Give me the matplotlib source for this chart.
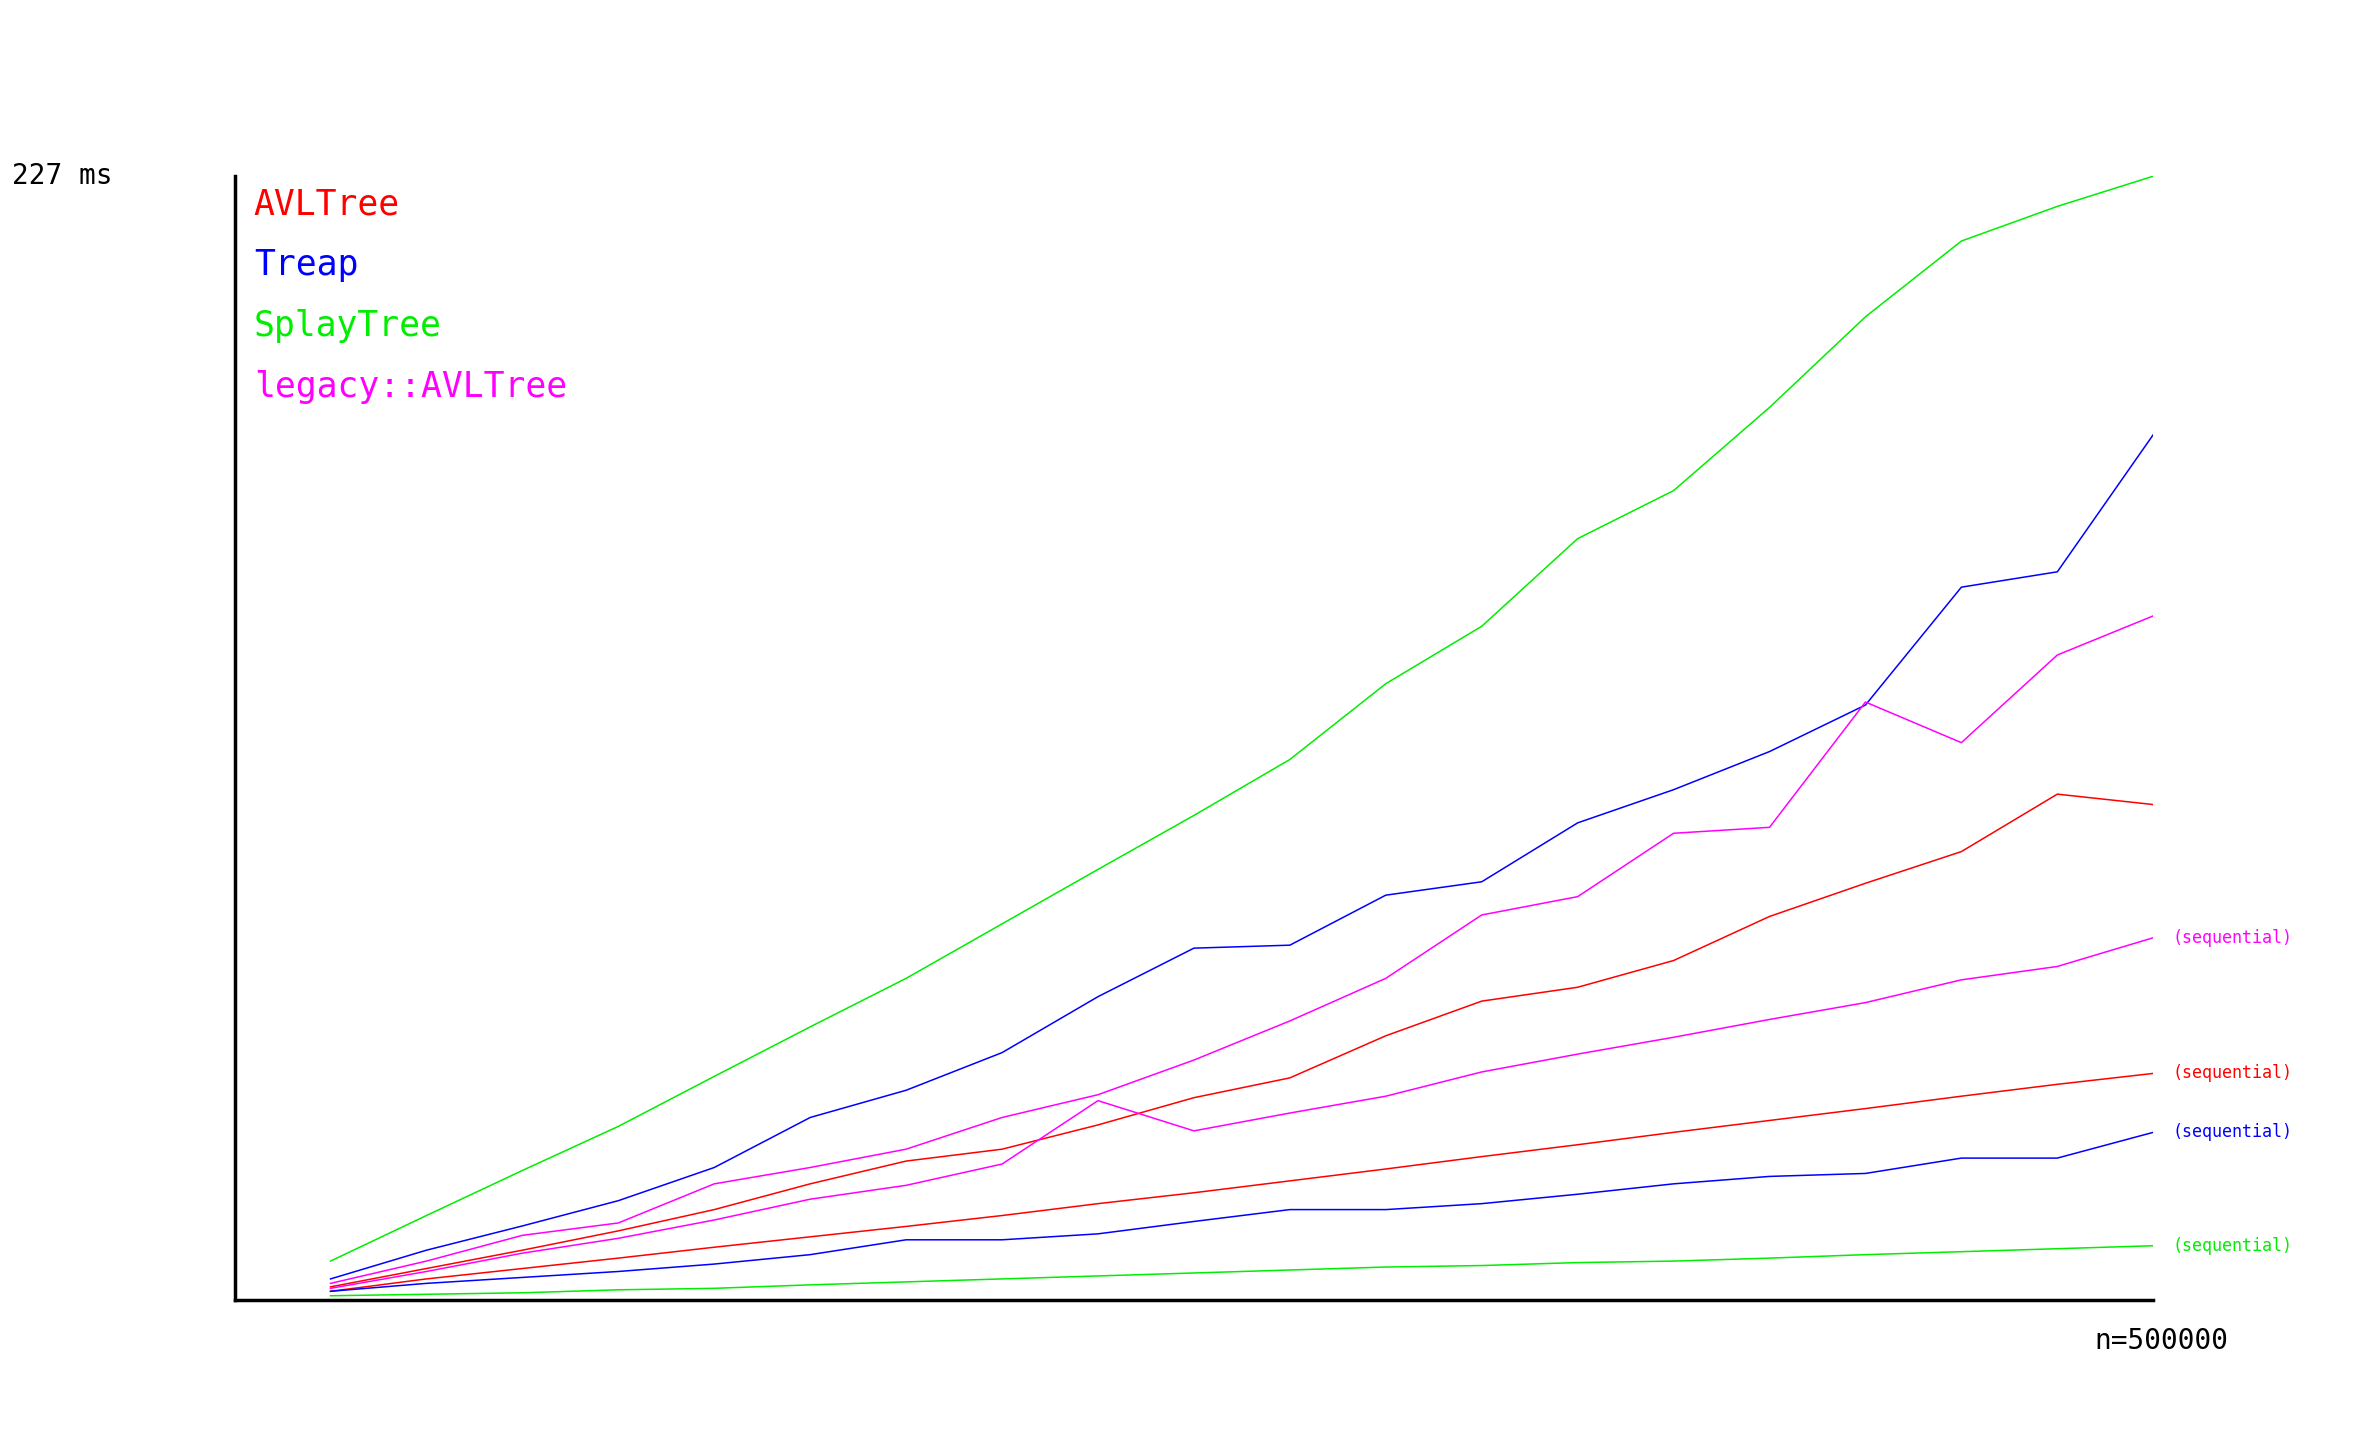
import numpy as np
import matplotlib.pyplot as plt

n = np.arange(25000, 500001, 25000)

avl = [2.7, 6.4, 10.1, 14.0, 18.3, 23.5, 28.1, 30.5, 35.4, 40.9, 44.9, 53.4, 60.4, 63.2, 68.6, 77.5, 84.2, 90.6, 102.2, 100.1]
treap = [4.3, 10.1, 15.0, 20.1, 26.8, 36.9, 42.4, 50.0, 61.3, 71.1, 71.7, 81.8, 84.5, 96.4, 103.1, 110.8, 120.2, 144.0, 147.1, 174.8]
splay = [7.9, 17.1, 26.2, 35.1, 45.2, 55.2, 65.0, 76.0, 87.0, 97.9, 109.2, 124.5, 136.1, 153.8, 163.5, 180.3, 198.6, 213.9, 220.9, 227.0]
legacy = [3.4, 7.9, 13.1, 15.6, 23.5, 26.8, 30.5, 36.9, 41.5, 48.5, 56.4, 65.0, 77.8, 81.5, 94.3, 95.5, 120.8, 112.6, 130.3, 138.2]

avl_seq = [1.8, 4.3, 6.4, 8.5, 10.7, 12.8, 14.9, 17.1, 19.5, 21.7, 24.1, 26.5, 29.0, 31.4, 33.9, 36.3, 38.7, 41.2, 43.6, 45.8]
treap_seq = [1.8, 3.4, 4.6, 5.8, 7.3, 9.2, 12.2, 12.2, 13.4, 15.9, 18.3, 18.3, 19.5, 21.4, 23.5, 25.0, 25.6, 28.7, 28.7, 33.9]
splay_seq = [0.9, 1.2, 1.5, 2.1, 2.4, 3.1, 3.7, 4.3, 4.9, 5.5, 6.1, 6.7, 7.0, 7.6, 7.9, 8.5, 9.2, 9.8, 10.4, 11.0]
legacy_seq = [2.4, 5.8, 9.5, 12.5, 16.2, 20.4, 23.2, 27.5, 40.3, 34.2, 37.8, 41.2, 46.1, 49.7, 53.1, 56.7, 60.1, 64.7, 67.4, 73.2]

names = ["AVLTree", "Treap", "SplayTree", "legacy::AVLTree"]
colors = ["#ff0000", "#0000ff", "#00ee00", "#ff00ff"]
main = [avl, treap, splay, legacy]
seq = [avl_seq, treap_seq, splay_seq, legacy_seq]

plt.rcParams['font.family'] = 'DejaVu Sans Mono'
fig = plt.figure(figsize=(23.6, 14.56), dpi=100)
ax = fig.add_axes([0.0994, 0.107, 0.813, 0.772])

for i in range(4):
    ax.plot(n, main[i], color=colors[i], lw=1.1)
    ax.plot(n, seq[i], color=colors[i], lw=1.1)
    ax.text(505000, seq[i][-1], "(sequential)", color=colors[i], fontsize=12, va="center")
    ax.text(0.01, 0.99 - i * 0.054, names[i], color=colors[i], fontsize=25,
            transform=ax.transAxes, va="top")

ax.set_xlim(0, 500000)
ax.set_ylim(0, 227)
for s in ["top", "right"]:
    ax.spines[s].set_visible(False)
for s in ["left", "bottom"]:
    ax.spines[s].set_linewidth(2.5)
ax.set_xticks([])
ax.set_yticks([])

fig.text(0.005, 0.879, "227 ms", fontsize=20, va="center")
fig.text(0.916, 0.079, "n=500000", fontsize=20, va="center", ha="center")

fig.savefig("out.png")
